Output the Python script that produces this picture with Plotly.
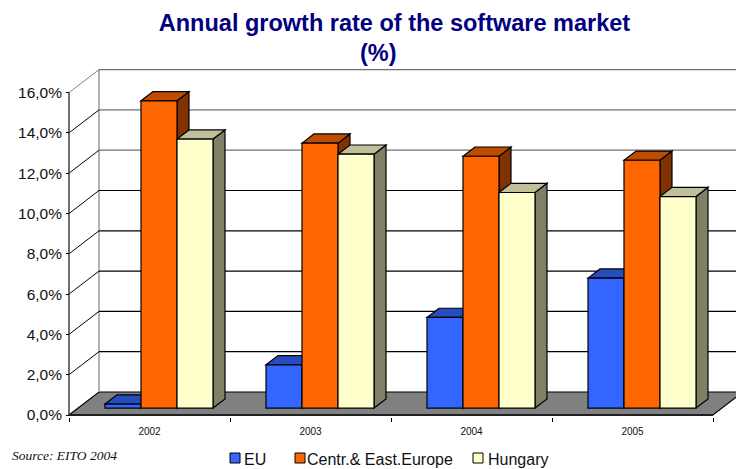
import plotly.graph_objects as go

years = ["2002", "2003", "2004", "2005"]
eu = [0.2, 2.15, 4.5, 6.45]
cee = [15.25, 13.15, 12.5, 12.3]
hungary = [13.35, 12.6, 10.7, 10.5]
y_ticks = [0, 2, 4, 6, 8, 10, 12, 14, 16]
y_labels = ["0,0%", "2,0%", "4,0%", "6,0%", "8,0%", "10,0%", "12,0%", "14,0%", "16,0%"]

# pixel scale of the axes
PX_X = 161
PX_Y = 20.15
# oblique depth of the floor, in axis units
DX = 30 / PX_X
DY = 23 / PX_Y
# bars stand between these fractions of the depth
BAR_D0 = 0.3
BAR_D = 0.4
BAR_W = 36 / PX_X
GROUP_LEFT = 36 / PX_X
# plot area in page pixels
LEFT, TOP, WIDTH, HEIGHT = 66, 60, 670, 357

series = [
    ("EU", eu, "#3366FF", "#264DBF", "#1A3380"),
    ("Centr.& East.Europe", cee, "#FF6600", "#BF4D00", "#803300"),
    ("Hungary", hungary, "#FFFFCC", "#BFBF99", "#808066"),
]
# swatch left edge and text left edge of the legend entries
legend_pos = [(230, 243), (295, 306), (473, 487)]


def poly(points, fill, line="black", width=1.2):
    path = "M" + "L".join(f"{x},{y}" for x, y in points) + "Z"
    return dict(type="path", path=path, xref="x", yref="y", layer="below",
                fillcolor=fill, line=dict(color=line, width=width))


def seg(x0, y0, x1, y1, color="black", width=1.2):
    return dict(type="line", x0=x0, y0=y0, x1=x1, y1=y1, xref="x", yref="y", layer="below",
                line=dict(color=color, width=width))


def px_x(px):
    return (px - LEFT) / WIDTH


def px_y(py):
    return (TOP + HEIGHT - py) / HEIGHT


n = len(years)
right = 4.2
shapes = []

# floor, walls and gridlines
shapes.append(poly([(0, 0), (DX, DY), (n + DX, DY), (n, 0)], "#808080"))
shapes.append(seg(DX, DY, DX, y_ticks[-1] + DY, "#999999", 1.5))
for t in y_ticks[1:]:
    grey = t >= 12
    shapes.append(seg(0, t, DX, t + DY, "#808080" if t == y_ticks[-1] else "black", 1))
    shapes.append(seg(DX, t + DY, right, t + DY, "#707070" if grey else "black", 1.2))
shapes.append(seg(0, 0, 0, y_ticks[-1], "#404040", 1.5))
shapes.append(seg(0, 0, n, 0, "#202020", 2))

# side and top faces of the bars, drawn left to right
base = BAR_D0 * DY
for i in range(n):
    for s, (name, vals, front, top, side) in enumerate(series):
        xl = i + GROUP_LEFT + s * BAR_W
        xr = xl + BAR_W
        v = vals[i] + base
        ddx = BAR_D * DX
        ddy = BAR_D * DY
        shapes.append(poly([(xr, base), (xr + ddx, base + ddy), (xr + ddx, v + ddy), (xr, v)], side))
        shapes.append(poly([(xl, v), (xl + ddx, v + ddy), (xr + ddx, v + ddy), (xr, v)], top))

fig = go.Figure()
for s, (name, vals, front, top, side) in enumerate(series):
    fig.add_trace(go.Bar(
        x=[i + GROUP_LEFT + (s + 0.5) * BAR_W for i in range(n)],
        y=vals, base=base, width=BAR_W, name=name,
        marker=dict(color=front, line=dict(color="black", width=1.2)),
    ))

annotations = [
    dict(text="<i>Source: EITO 2004</i>", xref="paper", yref="paper", x=px_x(10), y=px_y(455),
         xanchor="left", yanchor="middle", showarrow=False,
         font=dict(family="Liberation Serif", size=13.5, color="#111111")),
    # the second title line is not centred under the first one in the original
    dict(text="<b>(%)</b>", xref="paper", yref="paper", x=px_x(378), y=px_y(53),
         xanchor="center", yanchor="middle", showarrow=False,
         font=dict(size=23.5, color="#000080")),
]
# legend entries placed by hand, the built-in one keeps too wide a gap after the swatch
for (name, vals, front, top, side), (sw, tx) in zip(series, legend_pos):
    shapes.append(dict(type="rect", xref="paper", yref="paper", x0=px_x(sw), x1=px_x(sw + 10),
                       y0=px_y(463), y1=px_y(453), fillcolor=front, line=dict(color="black", width=1)))
    annotations.append(dict(text=name, xref="paper", yref="paper", x=px_x(tx), y=px_y(459),
                            xanchor="left", yanchor="middle", showarrow=False, borderpad=0,
                            font=dict(size=16, color="#111111")))

fig.update_layout(
    width=736, height=469,
    barmode="overlay",
    paper_bgcolor="white", plot_bgcolor="white",
    font=dict(family="Liberation Sans", color="#111111"),
    title=dict(text="<b>Annual growth rate of the software market</b>", x=394.5 / 736, xanchor="center",
               y=1 - 23 / 469, yanchor="middle", font=dict(size=23.5, color="#000080", family="Liberation Sans")),
    margin=dict(l=LEFT, r=0, t=TOP, b=469 - TOP - HEIGHT),
    shapes=shapes,
    showlegend=False,
    xaxis=dict(range=[-3 / PX_X, 667 / PX_X], tickmode="array", tickvals=[i + 0.5 for i in range(n)],
               ticktext=years, tickfont=dict(size=10), ticks="outside", ticklen=5,
               tickcolor="rgba(0,0,0,0)", showgrid=False, zeroline=False, showline=False,
               minor=dict(tickmode="array", tickvals=list(range(n + 1)), ticks="outside",
                          ticklen=4, tickcolor="black", tickwidth=1, showgrid=False)),
    yaxis=dict(range=[-2 / PX_Y, 355 / PX_Y], tickmode="array", tickvals=y_ticks, ticktext=y_labels,
               tickfont=dict(size=15.5), ticks="inside", ticklen=3, tickcolor="black", tickwidth=1,
               ticklabelstandoff=3, showgrid=False, zeroline=False, showline=False),
    annotations=annotations,
)

fig.write_html("out.html", config={"displayModeBar": False}, post_script="document.body.style.margin='0';")
